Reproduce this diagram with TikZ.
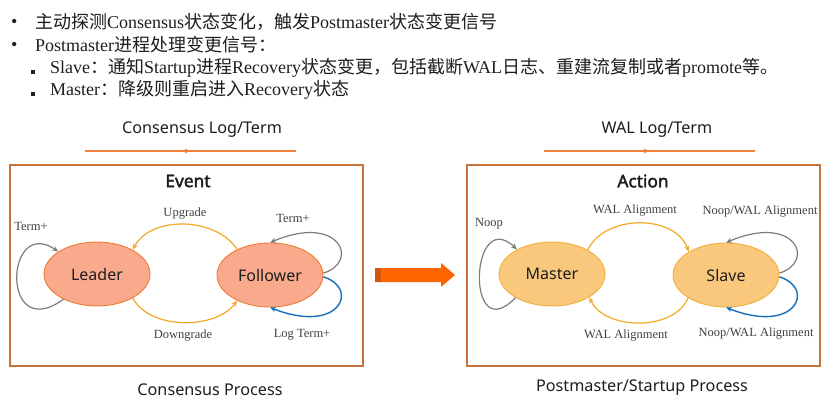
\documentclass[tikz,border=0pt]{standalone}
\usepackage{fontspec}
\setmainfont{Liberation Serif}
\newfontfamily\cjk{Noto Sans CJK SC}
\newfontfamily\nsans{Noto Sans}
\newfontfamily\nsansbold{Noto Sans}[FakeBold=2.2]
\usetikzlibrary{arrows.meta,decorations.markings,shapes.geometric}
\definecolor{boxc}{RGB}{200,115,60}
\definecolor{redfill}{RGB}{249,170,140}
\definecolor{reddraw}{RGB}{237,125,49}
\definecolor{yelfill}{RGB}{250,200,125}
\definecolor{yeldraw}{RGB}{242,175,60}
\definecolor{arcc}{RGB}{245,168,35}
\definecolor{grayc}{RGB}{125,125,125}
\definecolor{bluec}{RGB}{25,110,185}
\definecolor{linec}{RGB}{240,130,60}
\definecolor{bigarr}{RGB}{255,102,0}
\definecolor{bigarrd}{RGB}{210,85,10}
\definecolor{txt}{RGB}{30,30,30}
\newcommand{\C}[1]{{\cjk #1}}
\begin{document}
\begin{tikzpicture}[x=1pt,y=-1pt,
  every node/.style={text=txt},
  bultext/.style={anchor=west,inner sep=0pt,font=\fontsize{18}{20}\selectfont},
  heading/.style={font=\nsans\fontsize{16.2}{18}\selectfont,inner sep=0pt},
  boxtitle/.style={font=\nsansbold\fontsize{17.3}{20}\selectfont,inner sep=0pt},
  lab/.style={font=\fontsize{12.5}{14}\selectfont,inner sep=0pt,text=txt!85},
  redstate/.style={ellipse,draw=reddraw,fill=redfill,line width=0.9pt,minimum width=106pt,minimum height=64pt,inner sep=0pt,font=\nsans\fontsize{16}{18}\selectfont},
  yelstate/.style={ellipse,draw=yeldraw,fill=yelfill,line width=0.9pt,minimum width=106pt,minimum height=64pt,inner sep=0pt,font=\nsans\fontsize{16}{18}\selectfont},
  frame/.style={draw=boxc,line width=1.1pt},
  arc/.style={draw=arcc,line width=1.2pt,-{Stealth[length=6pt,width=5pt]}},
  grayloop/.style={draw=grayc,line width=1.2pt,-{Stealth[length=6pt,width=5pt]}},
  blueloop/.style={draw=bluec,line width=1.4pt,-{Stealth[length=6pt,width=5pt]}},
  flowline/.style={draw=linec,line width=1.3pt,postaction={decorate},
    decoration={markings,mark=at position 0.5 with {\arrow[linec]{Stealth[length=6pt,width=5pt]}}}}
]
\useasboundingbox (0,0) rectangle (834,401);
\fill[white] (0,0) rectangle (834,401);

% bullets
\node[bultext] (b1) at (11,23) {•};
\node[bultext] (t1) at (35,22) {\C{主动探测}Consensus\C{状态变化，触发}Postmaster\C{状态变更信号}};
\node[bultext] (b2) at (11,46) {•};
\node[bultext] (t2) at (35,45) {Postmaster\C{进程处理变更信号：}};
\fill[txt] (31,70) rectangle (35,74);
\node[bultext] (t3) at (50,68) {Slave\C{：通知}Startup\C{进程}Recovery\C{状态变更，包括截断}WAL\C{日志、重建流复制或者}promote\C{等。}};
\fill[txt] (31,92) rectangle (35,96);
\node[bultext] (t4) at (50,90) {Master\C{：降级则重启进入}Recovery\C{状态}};

% left panel
\node[heading] (h1) at (202,130) {Consensus Log/Term};
\coordinate (l1a) at (85,151);
\coordinate (l1b) at (296,151);
\draw[flowline] (l1a) -- (l1b);
\draw[frame] (10,165) rectangle (363,366);
\node[boxtitle] (ev) at (188,181) {Event};
\node[redstate] (leader) at (97,274) {Leader};
\node[redstate] (follower) at (270,275) {Follower};
\draw[arc] (follower.142) .. controls (215,216) and (150,216) .. (leader.34);
\draw[arc] (leader.-34) .. controls (150,330) and (215,330) .. (follower.-142);
\draw[grayloop] (leader.217) .. controls (0,345) and (5,215) .. (leader.150);
\draw[grayloop] (follower.2) .. controls (360,262) and (340,213) .. (follower.90);
\draw[blueloop] (follower.-2) .. controls (360,288) and (340,335) .. (follower.-90);
\node[lab] (up) at (185,214) {Upgrade};
\node[lab] (down) at (183,336) {Downgrade};
\node[lab] (tl) at (31,226) {Term+};
\node[lab] (tr) at (293,218) {Term+};
\node[lab] (lt) at (302,335) {Log Term+};
\node[heading] (cp) at (210,390) {Consensus Process};

% big arrow
\fill[bigarr] (375,268) -- (441,268) -- (441,263) -- (455,275) -- (441,287) -- (441,282) -- (375,282) -- cycle;
\fill[bigarrd] (375,268) rectangle (381,282);

% right panel
\node[heading] (h2) at (657,130) {WAL Log/Term};
\coordinate (l2a) at (544,151);
\coordinate (l2b) at (755,151);
\draw[flowline] (l2a) -- (l2b);
\draw[frame] (467,165) rectangle (820,366);
\node[boxtitle] (act) at (643,181) {Action};
\node[yelstate] (master) at (552,274) {Master};
\node[yelstate] (slave) at (726,275) {Slave};
\draw[arc] (master.34) .. controls (605,214) and (675,214) .. (slave.148);
\draw[arc] (slave.211) .. controls (675,331) and (605,331) .. (master.-32);
\draw[grayloop] (master.213) .. controls (465,350) and (470,205) .. (master.145);
\draw[grayloop] (slave.2) .. controls (816,262) and (796,213) .. (slave.90);
\draw[blueloop] (slave.-2) .. controls (816,288) and (796,335) .. (slave.-90);
\node[lab] (wt) at (635,211) {WAL Alignment};
\node[lab] (wb) at (626,336) {WAL Alignment};
\node[lab] (no) at (489,224) {Noop};
\node[lab] (nwt) at (760,212) {Noop/WAL Alignment};
\node[lab] (nwb) at (756,334) {Noop/WAL Alignment};
\node[heading] (pp) at (642,388) {Postmaster/Startup Process};
\end{tikzpicture}
\end{document}
